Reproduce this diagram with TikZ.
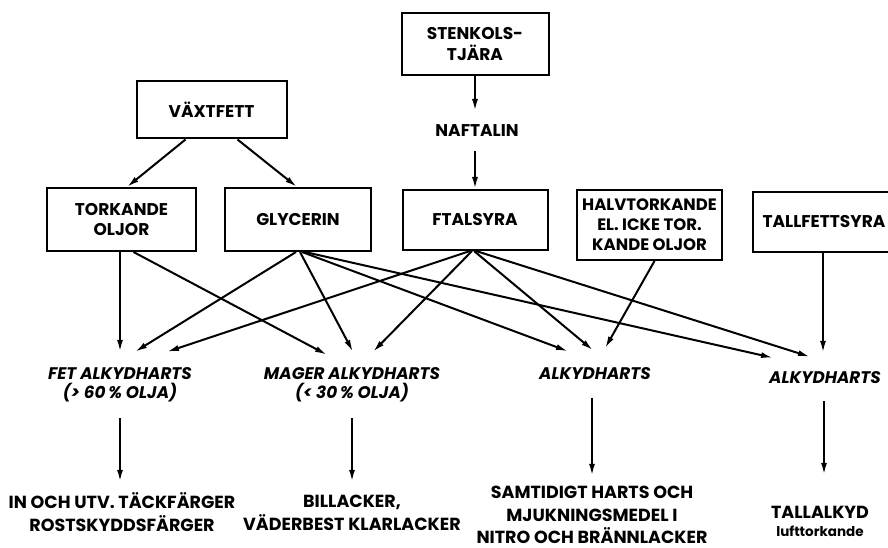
\documentclass[tikz,border=0pt]{standalone}
\usepackage{fontspec}
\setmainfont{Poppins}
\usetikzlibrary{arrows.meta}
\begin{document}
\begin{tikzpicture}[x=1pt,y=-1pt,
  box/.style={draw,line width=2pt,inner sep=0pt,align=center,font=\bfseries\fontsize{17}{20.5}\selectfont},
  lbl/.style={inner sep=0pt,align=center,font=\bfseries\itshape\fontsize{16.8}{19.5}\selectfont},
  res/.style={inner sep=0pt,align=center,font=\bfseries\fontsize{17.5}{22.5}\selectfont},
  arr/.style={line width=2pt,-{Latex[length=12pt,width=6pt]}}]
\clip (0,0) rectangle (888,548);
\fill[white] (0,0) rectangle (888,548);
% boxes
\node[box,minimum width=147pt,minimum height=62pt] (stk) at (475,44) {STENKOLS-\\TJÄRA};
\node[box,minimum width=150pt,minimum height=57pt] (vax) at (211.5,110) {VÄXTFETT};
\node[box,minimum width=149pt,minimum height=63pt] (tork) at (121.5,219.5) {TORKANDE\\OLJOR};
\node[box,minimum width=146pt,minimum height=63pt] (glyc) at (298,219.5) {GLYCERIN};
\node[box,minimum width=145pt,minimum height=60pt] (ftal) at (475,220) {FTALSYRA};
\node[box,minimum width=145pt,minimum height=70pt,font=\bfseries\fontsize{16.5}{20}\selectfont] (halv) at (649.5,225) {HALVTORKANDE\\EL. ICKE TOR.\\KANDE OLJOR};
\node[box,minimum width=142pt,minimum height=60pt] (tall) at (824,222) {TALLFETTSYRA};
% text nodes
\node[box,draw=none,minimum height=38pt] (naf) at (477,131) {NAFTALIN};
\node[lbl,minimum height=66pt] (fet) at (120,385) {FET ALKYDHARTS\\(> 60\,\% OLJA)};
\node[lbl,minimum height=66pt] (mag) at (352,385) {MAGER ALKYDHARTS\\(< 30\,\% OLJA)};
\node[lbl,minimum height=47pt] (alk3) at (595,374) {ALKYDHARTS};
\node[lbl,minimum height=46pt] (alk4) at (825,378) {ALKYDHARTS};
\node[res,minimum height=60pt] (b1) at (122,512) {IN OCH UTV. TÄCKFÄRGER\\ROSTSKYDDSFÄRGER};
\node[res,minimum height=62pt] (b2) at (352,513) {BILLACKER,\\VÄDERBEST KLARLACKER};
\node[res,minimum height=78pt] (b3) at (592,515) {SAMTIDIGT HARTS OCH\\MJUKNINGSMEDEL I\\NITRO OCH BRÄNNLACKER};
\node[res,minimum height=92pt,font=\bfseries\fontsize{17.5}{18}\selectfont] (b4) at (820,521) {TALLALKYD\\{\fontsize{13.5}{15}\selectfont lufttorkande}};
% top arrows
\draw[arr] (stk.south) -- (stk.south |- naf.north);
\draw[arr] (naf.south -| ftal) -- (ftal.north);
\draw[arr] ([xshift=-26pt]vax.south) -- ([xshift=5.5pt]tork.north);
\draw[arr] ([xshift=26pt]vax.south) -- ([xshift=-1pt]glyc.north);
% middle arrows
\draw[arr] ([xshift=-1.5pt]tork.south) -- (fet.north);
\draw[arr] ([xshift=12pt]tork.south) -- ([xshift=-25pt,yshift=-3pt]mag.north);
\draw[arr] ([xshift=-2pt]glyc.south) -- ([xshift=15pt]fet.north);
\draw[arr] ([xshift=2pt]glyc.south) -- ([xshift=1pt]mag.north);
\draw[arr] ([xshift=4pt]glyc.south) -- ([xshift=-27pt,yshift=-1pt]alk3.north);
\draw[arr] ([xshift=7pt]glyc.south) -- ([xshift=-52pt,yshift=-3pt]alk4.north);
\draw[arr] ([xshift=-5pt]ftal.south) -- ([xshift=47pt]fet.north);
\draw[arr] ([xshift=-3pt]ftal.south) -- ([xshift=21pt]mag.north);
\draw[arr] ([xshift=-1pt]ftal.south) -- ([xshift=-2pt]alk3.north);
\draw[arr] ([xshift=1pt]ftal.south) -- ([xshift=-15pt,yshift=-2pt]alk4.north);
\draw[arr] ([xshift=5pt]halv.south) -- ([xshift=10pt,yshift=2pt]alk3.north);
\draw[arr] ([xshift=-1pt]tall.south) -- ([xshift=-2pt,yshift=2pt]alk4.north);
% bottom arrows
\draw[arr] (fet.south) -- (fet.south |- b1.north);
\draw[arr] (mag.south) -- (mag.south |- b2.north);
\draw[arr] ([xshift=-3pt]alk3.south) -- ([xshift=-3pt]alk3.south |- b3.north);
\draw[arr] ([xshift=-1pt]alk4.south) -- ([xshift=-1pt]alk4.south |- b4.north);
\end{tikzpicture}
\end{document}
